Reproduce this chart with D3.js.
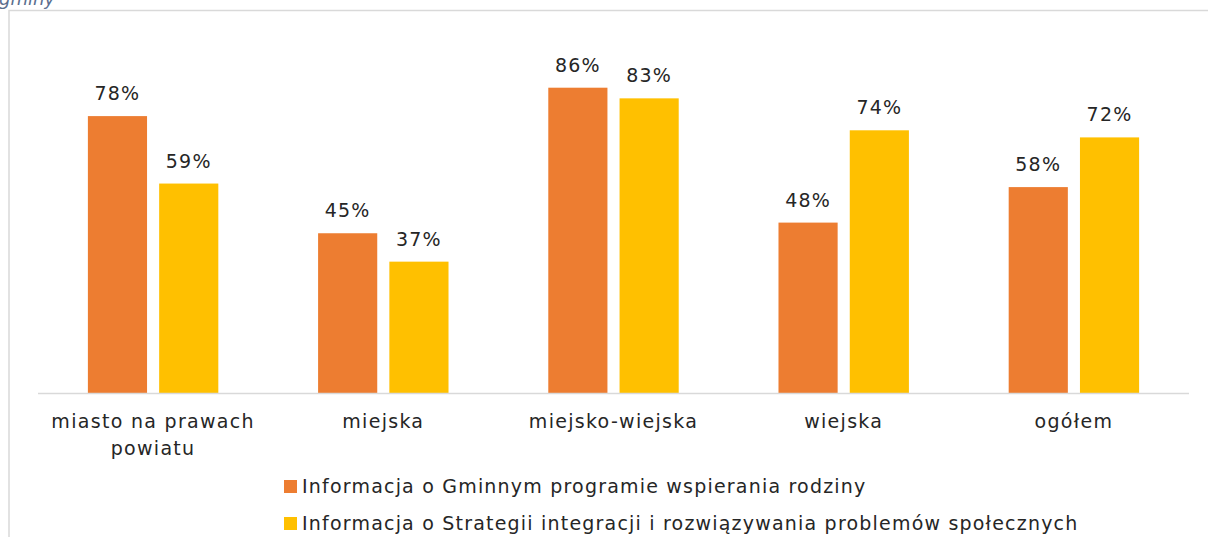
<!DOCTYPE html>
<html>
<head>
<meta charset="utf-8">
<script src="https://cdn.jsdelivr.net/npm/d3@7"></script>
<style>
  body { margin: 0; background: #fff; overflow: hidden; }
  svg { display: block; font-family: "DejaVu Sans", "Noto Sans", sans-serif; }
</style>
</head>
<body>
<div id="viz"></div>
<script>
const categories = ["miasto na prawach powiatu", "miejska", "miejsko-wiejska", "wiejska", "ogółem"];
const categoryLines = [["miasto na prawach", "powiatu"], ["miejska"], ["miejsko-wiejska"], ["wiejska"], ["ogółem"]];
const seriesNames = [
  "Informacja o Gminnym programie wspierania rodziny",
  "Informacja o Strategii integracji i rozwiązywania problemów społecznych"
];
const rodzinaValues = [78, 45, 86, 48, 58];
const strategiaValues = [59, 37, 83, 74, 72];

const COLORS = ["#ed7d31", "#ffc000"];

const width = 1208, height = 537;
const margin = { left: 38, right: 19, top: 38, baseline: 393 };

const svg = d3.select("#viz").append("svg")
  .attr("width", width)
  .attr("height", height);

// title cut off by the top of the picture
svg.append("text")
  .attr("x", -1)
  .attr("y", 5)
  .attr("fill", "#5b6f8f")
  .attr("font-style", "italic")
  .attr("font-size", 18)
  .text("gminy");

// chart frame
svg.append("path")
  .attr("d", `M9,${height} V10.5 H${width}`)
  .attr("fill", "none")
  .attr("stroke", "#d9d9d9")
  .attr("stroke-width", 1.5);

const x0 = d3.scaleBand()
  .domain(categories)
  .range([margin.left, width - margin.right]);

const x1 = d3.scaleBand()
  .domain([0, 1])
  .range([0, x0.bandwidth()])
  .paddingInner(0.17)
  .paddingOuter(0.7);

const y = d3.scaleLinear()
  .domain([0, 100])
  .range([margin.baseline, margin.top]);

const rows = categories.map((c, i) => ({ cat: c, vals: [rodzinaValues[i], strategiaValues[i]] }));

const groups = svg.append("g").selectAll("g")
  .data(rows)
  .join("g")
  .attr("transform", d => `translate(${x0(d.cat)},0)`);

groups.selectAll("rect")
  .data(d => d.vals.map((v, k) => ({ v, k })))
  .join("rect")
  .attr("x", d => x1(d.k))
  .attr("y", d => y(d.v))
  .attr("width", x1.bandwidth())
  .attr("height", d => y(0) - y(d.v))
  .attr("fill", d => COLORS[d.k]);

groups.selectAll("text.val")
  .data(d => d.vals.map((v, k) => ({ v, k })))
  .join("text")
  .attr("class", "val")
  .attr("x", d => x1(d.k) + x1.bandwidth() / 2)
  .attr("y", d => y(d.v) - 16)
  .attr("text-anchor", "middle")
  .attr("font-size", 19)
  .attr("letter-spacing", 1.2)
  .attr("fill", "#262626")
  .text(d => d.v + "%");

// baseline
svg.append("line")
  .attr("x1", margin.left)
  .attr("x2", width - margin.right)
  .attr("y1", y(0) + 0.5)
  .attr("y2", y(0) + 0.5)
  .attr("stroke", "#d9d9d9")
  .attr("stroke-width", 1.5);

// category labels
const catText = svg.append("g").selectAll("text")
  .data(categories)
  .join("text")
  .attr("x", d => x0(d) + x0.bandwidth() / 2)
  .attr("y", 428)
  .attr("text-anchor", "middle")
  .attr("font-size", 19)
  .attr("letter-spacing", 1.3)
  .attr("fill", "#262626");

catText.selectAll("tspan")
  .data((d, i) => categoryLines[i])
  .join("tspan")
  .attr("x", function() { return this.parentNode.getAttribute("x"); })
  .attr("dy", (d, i) => i === 0 ? 0 : 27)
  .text(d => d);

// legend
const legend = svg.append("g").selectAll("g")
  .data(seriesNames)
  .join("g")
  .attr("transform", (d, i) => `translate(284,${480 + i * 37})`);

legend.append("rect")
  .attr("width", 13)
  .attr("height", 13)
  .attr("fill", (d, i) => COLORS[i]);

legend.append("text")
  .attr("x", 18)
  .attr("y", 13)
  .attr("font-size", 19)
  .attr("letter-spacing", 1.2)
  .attr("fill", "#262626")
  .text(d => d);
</script>
</body>
</html>
